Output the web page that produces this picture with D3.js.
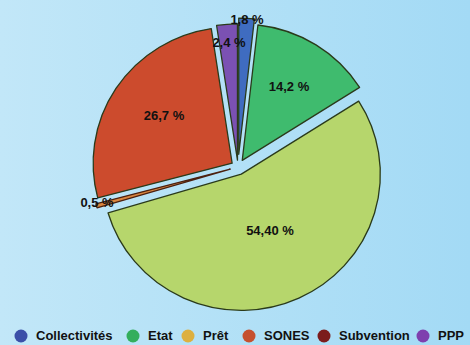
<!DOCTYPE html>
<html><head><meta charset="utf-8">
<script src="https://cdn.jsdelivr.net/npm/d3@7"></script>
<style>html,body{margin:0;padding:0;overflow:hidden}</style>
</head><body>
<script>
const categories = ["Collectivités","Etat","Prêt","Subvention","SONES","PPP"];
const values = [1.8, 14.2, 54.4, 0.5, 26.7, 2.4];
const labels = ["1,8 %","14,2 %","54,40 %","0,5 %","26,7 %","2,4 %"];
const legendOrder = ["Collectivités","Etat","Prêt","SONES","Subvention","PPP"];
const sliceColors = {"Collectivités":"#3f6cc0","Etat":"#3fbb6e","Prêt":"#b6d66c","Subvention":"#d9853f","SONES":"#cc4b2d","PPP":"#7b51b3"};
const legendColors = {"Collectivités":"#3b4fa8","Etat":"#33ae5c","Prêt":"#ddb040","SONES":"#c5502f","Subvention":"#7b1c1c","PPP":"#7e3fae"};
const explode = {"Collectivités":13,"Etat":8,"Prêt":8,"Subvention":8,"SONES":7,"PPP":7};

const W=470,H=345;
const svg=d3.select("body").append("svg").attr("width",W).attr("height",H);
const defs=svg.append("defs");
const bg=defs.append("linearGradient").attr("id","bg").attr("x1","0").attr("y1","0").attr("x2","1").attr("y2","0");
bg.append("stop").attr("offset","0").attr("stop-color","#c2e7f8");
bg.append("stop").attr("offset","1").attr("stop-color","#a3daf5");
svg.append("rect").attr("width",W).attr("height",H).attr("fill","url(#bg)");

const cx=238, cy=167, r=139;
const pie=d3.pie().sort(null).value(d=>d.v);
const data=pie(categories.map((c,i)=>({c,v:values[i],l:labels[i]})));
const arc=d3.arc().innerRadius(0).outerRadius(r);
const g=svg.append("g").attr("transform",`translate(${cx},${cy}) scale(1,0.98)`);
data.forEach(d=>{
  const a=(d.startAngle+d.endAngle)/2, e=explode[d.data.c];
  d.dx=Math.sin(a)*e; d.dy=-Math.cos(a)*e;
});
g.selectAll("path").data(data).enter().append("path")
  .attr("transform",d=>`translate(${d.dx},${d.dy})`)
  .attr("d",arc)
  .attr("fill",d=>sliceColors[d.data.c])
  .attr("stroke",d=>d.data.c==="Subvention"?"#4a2010":"#2a3a1a")
  .attr("stroke-width",1.3)
  .attr("stroke-linejoin","round");

// labels
const labelPos = {"Collectivités":[247,21],"Etat":[289,88],"Prêt":[270,232],"Subvention":[97,204],"SONES":[164,117],"PPP":[229,44]};
svg.selectAll("text.lbl").data(data).enter().append("text").attr("class","lbl")
  .attr("x",d=>labelPos[d.data.c][0]).attr("y",d=>labelPos[d.data.c][1])
  .attr("text-anchor","middle").attr("dominant-baseline","middle")
  .attr("font-family","Liberation Sans, Arial, sans-serif").attr("font-weight","bold")
  .attr("font-size",13).attr("fill","#111").text(d=>d.data.l);

// legend
const legX = {"Collectivités":21,"Etat":133,"Prêt":188,"SONES":249,"Subvention":324,"PPP":423};
const lg=svg.append("g");
legendOrder.forEach(c=>{
  lg.append("circle").attr("cx",legX[c]).attr("cy",336).attr("r",6.5).attr("fill",legendColors[c]);
  lg.append("text").attr("x",legX[c]+15).attr("y",336.5).attr("dominant-baseline","middle")
    .attr("font-family","Liberation Sans, Arial, sans-serif").attr("font-weight","bold")
    .attr("font-size",13).attr("fill","#111").text(c);
});
</script>
</body></html>
